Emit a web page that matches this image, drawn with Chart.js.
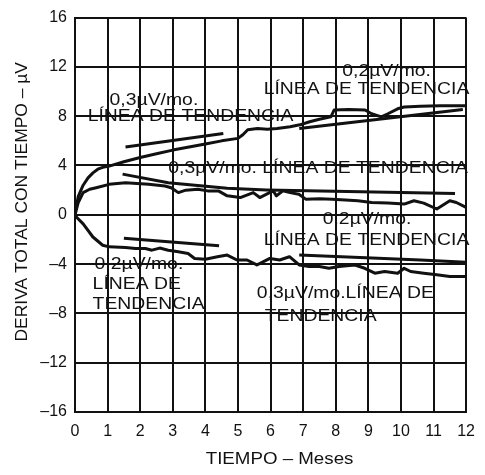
<!DOCTYPE html>
<html>
<head>
<meta charset="utf-8">
<script src="https://cdn.jsdelivr.net/npm/chart.js@4/dist/chart.umd.min.js"></script>
<style>
html,body{margin:0;padding:0;background:#fff;}
#wrap{width:485px;height:475px;}
</style>
</head>
<body>
<div id="wrap"><canvas id="c" width="485" height="475"></canvas></div>
<script>
// ---- Data (months, µV) ----
const xTickLabels = ['0','1','2','3','4','5','6','7','8','9','10','11','12'];
const yTickLabels = {16:'16',12:'12',8:'8',4:'4',0:'0','-4':'–4','-8':'–8','-12':'–12','-16':'–16'};

const upperCurveX = [0,0.05,0.1,0.25,0.4,0.55,0.7,0.85,1.05,1.5,2,2.5,3,3.5,4,4.5,5.0,5.15,5.3,5.6,5.9,6.2,6.6,6.9,7.2,7.5,7.85,7.95,8.4,8.9,9.1,9.4,9.6,9.9,10.1,10.6,11.2,12];
const upperCurveY = [0,0.8,1.5,2.4,3.0,3.4,3.7,3.85,3.95,4.3,4.65,4.95,5.25,5.5,5.75,6.0,6.2,6.5,6.9,7.0,6.95,7.0,7.15,7.3,7.55,7.75,7.95,8.5,8.55,8.5,8.2,7.95,8.2,8.6,8.75,8.8,8.85,8.85];

const upperLeftTrendX = [1.55,4.55];
const upperLeftTrendY = [5.5,6.6];

const upperRightTrendX = [6.88,11.9];
const upperRightTrendY = [7.0,8.55];

const middleCurveX = [0,0.1,0.25,0.45,0.65,1.05,1.55,2.26,2.76,2.95,3.17,3.4,3.77,4.07,4.4,4.67,5.07,5.47,5.67,5.88,6.08,6.18,6.38,6.6,6.87,7.08,7.5,7.89,8.3,8.68,9.1,9.6,10.1,10.4,10.7,11.1,11.5,11.7,12];
const middleCurveY = [0,1.0,1.8,2.07,2.2,2.47,2.6,2.47,2.34,2.2,1.8,2.0,2.07,1.94,1.94,1.54,1.4,1.8,1.4,1.67,1.94,1.54,1.94,1.8,1.67,1.27,1.3,1.27,1.2,1.14,1.0,0.95,0.87,1.14,0.95,0.47,1.14,1.0,0.6];

const middleTrendX = [1.46,2.86,4.67,5.88,11.66];
const middleTrendY = [3.3,2.6,2.15,2.02,1.72];

const lowerCurveX = [0,0.05,0.25,0.55,0.85,1.05,1.55,1.86,2.16,2.36,2.6,2.86,3.17,3.47,3.67,4.0,4.37,4.67,4.97,5.28,5.58,5.68,5.98,6.28,6.58,6.88,7.18,7.5,7.79,8.1,8.59,8.89,9.2,9.5,9.9,10.1,10.3,10.7,11.1,11.5,12];
const lowerCurveY = [0,-0.2,-0.74,-1.8,-2.47,-2.6,-2.66,-2.74,-2.74,-2.87,-2.7,-2.87,-3.0,-3.14,-3.54,-3.6,-3.4,-3.27,-3.67,-3.67,-4.07,-3.94,-3.54,-3.67,-3.4,-4.07,-4.2,-4.2,-4.34,-4.2,-4.07,-4.34,-4.74,-4.6,-4.74,-4.34,-4.6,-4.74,-4.87,-5.0,-5.0];

const lowerLeftTrendX = [1.5,4.42];
const lowerLeftTrendY = [-1.9,-2.52];

const lowerRightTrendX = [6.88,10.6,12];
const lowerRightTrendY = [-3.27,-3.67,-3.85];

// Annotation texts anchored in data units (month, µV)
const noteTexts = ['0,3µV/mo.','LÍNEA DE TENDENCIA','0,2µV/mo.','LÍNEA DE TENDENCIA','0,3µV/mo. LÍNEA DE TENDENCIA','0,2µV/mo.','LÍNEA DE TENDENCIA','0,2µV/mo.','LÍNEA DE','TENDENCIA','0,3µV/mo.LÍNEA DE','TENDENCIA'];
const noteX = [1.06,0.39,8.2,5.79,2.86,7.6,5.79,0.6,0.54,0.54,5.58,5.82];
const noteY = [9.26,7.98,11.67,10.22,3.81,-0.36,-2.04,-4.05,-5.65,-7.26,-6.38,-8.22];

const xTitle = 'TIEMPO – Meses';
const yTitle = 'DERIVA TOTAL CON TIEMPO – µV';

// ---- Build ----
function pts(xs, ys){ return xs.map((x,i)=>({x:x, y:ys[i]})); }
const FONT = "'Liberation Sans', Arial, Helvetica, sans-serif";
const INK = '#111';

function lineDs(label, xs, ys){
  return {label, data: pts(xs,ys), borderColor: INK, borderWidth: 3, pointRadius: 0, fill: false, tension: 0, showLine: true, borderJoinStyle:'round', borderCapStyle:'butt'};
}

const notesPlugin = {
  id: 'notes',
  beforeDatasetsDraw(chart){
    const ctx = chart.ctx, xs = chart.scales.x, ys = chart.scales.y;
    ctx.save();
    ctx.fillStyle = INK;
    ctx.font = '17px ' + FONT;
    ctx.textAlign = 'left';
    ctx.textBaseline = 'middle';
    noteTexts.forEach((t,i)=>{
      ctx.save();
      ctx.translate(xs.getPixelForValue(noteX[i]), ys.getPixelForValue(noteY[i]));
      ctx.scale(1.14, 1);
      ctx.fillText(t, 0, 0);
      ctx.restore();
    });
    ctx.restore();
  },
  afterDraw(chart){
    const ctx = chart.ctx, area = chart.chartArea;
    ctx.save();
    ctx.fillStyle = INK;
    ctx.font = '16px ' + FONT;
    ctx.textAlign = 'center';
    ctx.textBaseline = 'middle';
    // x-axis title
    ctx.save();
    ctx.translate(area.left + (area.right-area.left)*0.5 + 9, 460);
    ctx.scale(1.17, 1);
    ctx.fillText(xTitle, 0, 0);
    ctx.restore();
    // y-axis title
    ctx.save();
    ctx.translate(22.5, area.top + (area.bottom-area.top)*0.5 - 13);
    ctx.rotate(-Math.PI/2);
    ctx.scale(1.09, 1);
    ctx.fillText(yTitle, 0, 0);
    ctx.restore();
    ctx.restore();
  }
};

new Chart(document.getElementById('c'), {
  type: 'scatter',
  data: {
    datasets: [
      lineDs('upper', upperCurveX, upperCurveY),
      lineDs('upperLeftTrend', upperLeftTrendX, upperLeftTrendY),
      lineDs('upperRightTrend', upperRightTrendX, upperRightTrendY),
      lineDs('middle', middleCurveX, middleCurveY),
      lineDs('middleTrend', middleTrendX, middleTrendY),
      lineDs('lower', lowerCurveX, lowerCurveY),
      lineDs('lowerLeftTrend', lowerLeftTrendX, lowerLeftTrendY),
      lineDs('lowerRightTrend', lowerRightTrendX, lowerRightTrendY)
    ]
  },
  options: {
    responsive: false,
    animation: false,
    devicePixelRatio: 1,
    layout: { padding: { left: 0, right: 12, top: 13, bottom: 0 } },
    plugins: { legend: { display: false }, tooltip: { enabled: false } },
    scales: {
      x: {
        type: 'linear', min: 0, max: 12,
        ticks: { stepSize: 1, color: INK, font: { family: FONT, size: 16 }, padding: 10, maxRotation: 0,
                 callback: (v) => xTickLabels[v] },
        grid: { color: INK, lineWidth: 2, drawTicks: false },
        border: { color: INK, width: 2 },
        afterFit: (s) => { s.height = 63; }
      },
      y: {
        type: 'linear', min: -16, max: 16,
        ticks: { stepSize: 4, color: INK, font: { family: FONT, size: 16 }, padding: 8,
                 callback: (v) => yTickLabels[v] },
        grid: { color: INK, lineWidth: 2, drawTicks: false },
        border: { color: INK, width: 2 },
        afterFit: (s) => { s.width = 75; }
      }
    }
  },
  plugins: [notesPlugin]
});
</script>
</body>
</html>
